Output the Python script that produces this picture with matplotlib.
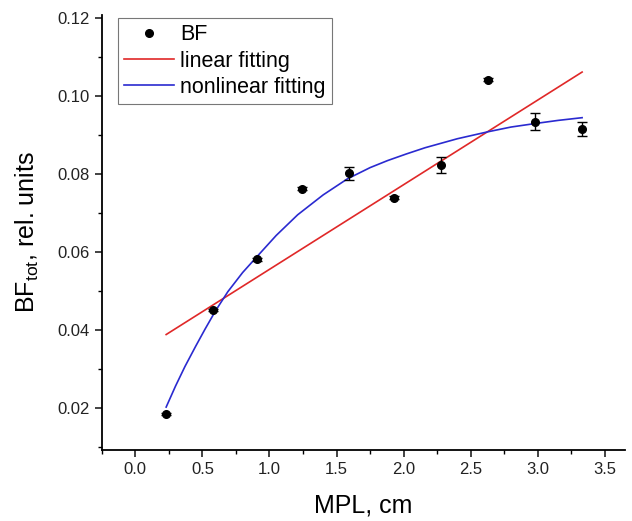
"""BF_tot vs MPL with linear and nonlinear fits."""

import matplotlib.pyplot as plt
from matplotlib.lines import Line2D
from matplotlib.ticker import MultipleLocator

plt.rcParams["font.family"] = ["Liberation Sans", "DejaVu Sans"]
plt.rcParams["mathtext.fontset"] = "custom"
plt.rcParams["mathtext.rm"] = "Liberation Sans"

# measured points
mpl_cm = [0.23, 0.58, 0.91, 1.24, 1.59, 1.93, 2.28, 2.63, 2.98, 3.33]
bf_tot = [0.0185, 0.0452, 0.0582, 0.0763, 0.0802, 0.0740, 0.0824, 0.1042, 0.0935, 0.0916]
bf_err = [0.0003, 0.0003, 0.0004, 0.0004, 0.0016, 0.0003, 0.0020, 0.0004, 0.0021, 0.0019]

# linear fit (end points)
lin_x = [0.23, 3.33]
lin_y = [0.0389, 0.1062]

# nonlinear fit
nl_x = [0.23, 0.30, 0.37, 0.45, 0.52, 0.60, 0.69, 0.80, 0.91, 1.05, 1.21, 1.40,
        1.58, 1.75, 1.88, 2.02, 2.16, 2.40, 2.63, 2.80, 2.98, 3.15, 3.33]
nl_y = [0.0203, 0.0257, 0.0307, 0.0359, 0.0403, 0.0451, 0.0499, 0.0548, 0.0590,
        0.0643, 0.0696, 0.0747, 0.0788, 0.0817, 0.0835, 0.0852, 0.0868, 0.0891,
        0.0909, 0.0921, 0.0930, 0.0938, 0.0945]

fig = plt.figure(figsize=(6.32, 5.21), dpi=100)
ax = fig.add_axes([0.161, 0.1363, 0.828, 0.8347])

ax.plot(lin_x, lin_y, color="#e02828", linewidth=1.2, zorder=2)
ax.plot(nl_x, nl_y, color="#2a2ad0", linewidth=1.2, zorder=2)
ax.errorbar(mpl_cm, bf_tot, yerr=bf_err, fmt="o", color="black", ms=5.5,
            capsize=3.3, elinewidth=1, capthick=1, zorder=3)

ax.set_xlim(-0.25, 3.65)
ax.set_ylim(0.0093, 0.1208)
ax.xaxis.set_major_locator(MultipleLocator(0.5))
ax.xaxis.set_minor_locator(MultipleLocator(0.25))
ax.yaxis.set_major_locator(MultipleLocator(0.02))
ax.yaxis.set_minor_locator(MultipleLocator(0.01))
ax.xaxis.set_major_formatter(lambda v, p: f"{v:.1f}")
ax.yaxis.set_major_formatter(lambda v, p: f"{v:.2f}")
ax.set_ylim(0.0093, 0.1208)

for side in ("top", "right"):
    ax.spines[side].set_visible(False)
for side in ("left", "bottom"):
    ax.spines[side].set_linewidth(1.3)
ax.tick_params(which="major", direction="out", length=5, width=1.2, labelsize=12, colors="#222222")
ax.tick_params(which="minor", direction="out", length=3, width=1.0)

ax.set_xlabel("MPL, cm", fontsize=18, labelpad=12)
ax.set_ylabel(r"BF$_{\mathregular{tot}}$, rel. units", fontsize=18, labelpad=12)

handles = [
    Line2D([], [], marker="o", linestyle="", color="black", ms=5.5),
    Line2D([], [], color="#e02828", linewidth=1.2),
    Line2D([], [], color="#2a2ad0", linewidth=1.2),
]
labels = ["BF", "linear fitting", "nonlinear fitting"]
leg = ax.legend(handles, labels, loc="upper left", bbox_to_anchor=(0.031, 0.993),
                borderaxespad=0, fontsize=15.5, handlelength=2.3, handletextpad=0.3,
                labelspacing=0.25, fancybox=False, frameon=True, borderpad=0.28)
leg.get_frame().set_edgecolor("#555555")
leg.get_frame().set_linewidth(0.8)

fig.savefig("out.png", dpi=100)
